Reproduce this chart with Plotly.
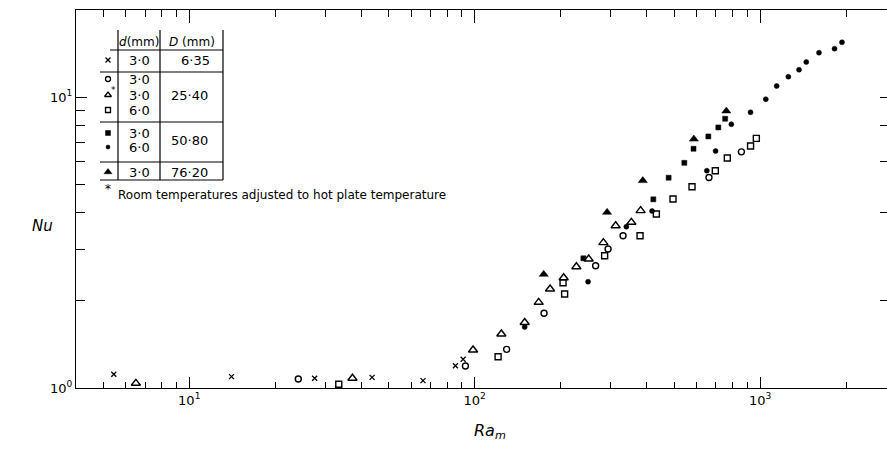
import math
import plotly.graph_objects as go

# ---------------- data (Ra_m, Nu) ----------------
x_ra = [5.44, 14.06, 27.5, 43.7, 65.9, 85.6, 91.1]
x_nu = [1.115, 1.094, 1.08, 1.088, 1.06, 1.193, 1.256]

circ_ra = [24.1, 92.8, 129.4, 175, 265.3, 293.3, 331, 662, 860]
circ_nu = [1.074, 1.19, 1.358, 1.806, 2.632, 3.005, 3.337, 5.29, 6.48]

tri_ra = [6.5, 37.3, 98.7, 124, 149.7, 167.6, 183.7, 205, 227.1, 250.8, 282.4, 311.8, 353.9, 381.4]
tri_nu = [1.038, 1.08, 1.351, 1.533, 1.679, 1.97, 2.189, 2.393, 2.611, 2.776, 3.158, 3.612, 3.711, 4.068]

sq_ra = [33.4, 120.8, 204, 206.6, 285.3, 379.6, 433, 495.3, 577.4, 696.8, 767.6, 926, 970]
sq_nu = [1.03, 1.281, 2.30, 2.104, 2.849, 3.337, 3.963, 4.462, 4.918, 5.58, 6.17, 6.79, 7.21]

fsq_ra = [240.3, 422.6, 478.1, 542.6, 584.4, 658.6, 713.8, 754.2]
fsq_nu = [2.791, 4.45, 5.28, 5.94, 6.64, 7.32, 7.86, 8.42]

dot_ra = [149.7, 249.6, 339.9, 418.2, 650.6, 698.4, 792.8, 925.6, 1047, 1143, 1256, 1369, 1451, 1608, 1823, 1936]
dot_nu = [1.62, 2.319, 3.584, 4.058, 5.58, 6.52, 8.06, 8.86, 9.83, 10.91, 11.74, 12.41, 13.19, 14.2, 14.66, 15.42]

ftri_ra = [174.5, 290.9, 388.2, 586, 761.5]
ftri_nu = [2.458, 4.016, 5.16, 7.17, 8.95]

# table contents
tab_d = ["3·0", "3·0", "3·0", "6·0", "3·0", "6·0", "3·0"]
tab_D = ["6·35", "25·40", "50·80", "76·20"]
x_major = [10, 100, 1000]
x_major_txt = ["10<sup>1</sup>", "10<sup>2</sup>", "10<sup>3</sup>"]
x_minor = [5, 6, 7, 8, 9, 20, 30, 40, 50, 60, 70, 80, 90,
           200, 300, 400, 500, 600, 700, 800, 900, 2000]
y_major = [1, 10]
y_major_txt = ["10<sup>0</sup>", "10<sup>1</sup>"]
y_minor = [2, 3, 4, 5, 6, 7, 8, 9]
y_right = [2, 4, 6, 8, 10]

# ---------------- figure ----------------
W, H = 887, 449
L, R, T, B = 76, 0, 10, 61
XR = [math.log10(4.01), 3.4446]
YR = [0, 1.299]
BLK = "black"
FONT = "DejaVu Sans"

fig = go.Figure()

def add(xs, ys, symbol, size, lw=1.4):
    fig.add_trace(go.Scatter(
        x=xs, y=ys, mode="markers", showlegend=False, hoverinfo="skip",
        marker=dict(symbol=symbol, size=size, color=BLK,
                    line=dict(color=BLK, width=lw))))

add(x_ra, x_nu, "x-thin-open", 5, 1.3)
add(circ_ra, circ_nu, "circle-open", 6)
add(tri_ra, tri_nu, "triangle-up-open", 8)
add(sq_ra, sq_nu, "square-open", 6)
add(fsq_ra, fsq_nu, "square", 5, 0.5)
add(dot_ra, dot_nu, "circle", 5, 0.5)
add(ftri_ra, ftri_nu, "triangle-up", 8, 0.5)

# dummy trace to materialise the top/right axes
fig.add_trace(go.Scatter(x=[], y=[], xaxis="x2", yaxis="y2",
                         showlegend=False, hoverinfo="skip"))

# ---------------- legend table in pixel space (overlay axes x3/y3) ----------------
px_x = [76, 887]
px_y = [388, 10]
fig.add_trace(go.Scatter(x=[], y=[], xaxis="x3", yaxis="y3",
                         showlegend=False, hoverinfo="skip"))

row_y = [60, 79, 95, 110, 133, 147, 172]
sym = [("x-thin-open", 5, 1.3), ("circle-open", 5, 1.3), ("triangle-up-open", 6, 1.3),
       ("square-open", 5, 1.3), ("square", 5, 0.5), ("circle", 4, 0.5),
       ("triangle-up", 7, 0.5)]
for (s, sz, lw), yy in zip(sym, row_y):
    fig.add_trace(go.Scatter(x=[108], y=[yy], xaxis="x3", yaxis="y3",
                             mode="markers", showlegend=False, hoverinfo="skip",
                             marker=dict(symbol=s, size=sz, color=BLK,
                                         line=dict(color=BLK, width=lw))))

shapes = []
def line(x0, y0, x1, y1, w=1.2):
    shapes.append(dict(type="line", xref="x3", yref="y3", x0=x0, y0=y0,
                       x1=x1, y1=y1, line=dict(color=BLK, width=w)))

for xv in (118, 160, 223):
    line(xv, 30, xv, 180)
line(110, 50, 223, 50)
for yv in (72, 122, 162, 180):
    line(100, yv, 223, yv)

ann = []
def txt(x, y, s, size=13, xanchor="center"):
    ann.append(dict(xref="x3", yref="y3", x=x, y=y, text=s, showarrow=False,
                    xanchor=xanchor, yanchor="middle",
                    font=dict(family=FONT, size=size, color=BLK)))

txt(139, 42, "<i>d</i>(mm)", 12)
txt(192, 42, "<i>D</i> (mm)", 12)
for s, yy in zip(tab_d, row_y):
    txt(139, yy, s)
txt(195, 60, tab_D[0])
txt(189, 95, tab_D[1])
txt(189, 140, tab_D[2])
txt(189, 172, tab_D[3])
txt(113, 90, "*", 9)
txt(108, 189, "*", 12)
txt(116, 195, "Room temperatures adjusted to hot plate temperature", 12, xanchor="left")

# axis titles (paper coordinates, outside the plot area)
def px2paper(px, py):
    return (px - L) / (W - L - R), (H - B - py) / (H - T - B)

nx, ny = px2paper(42, 226)
ann.append(dict(xref="paper", yref="paper", x=nx, y=ny, text="<i>Nu</i>",
                showarrow=False, xanchor="center", yanchor="middle",
                font=dict(family=FONT, size=15, color=BLK)))
rx, ry = px2paper(490, 432)
ann.append(dict(xref="paper", yref="paper", x=rx, y=ry, text="<i>Ra<sub>m</sub></i>",
                showarrow=False, xanchor="center", yanchor="middle",
                font=dict(family=FONT, size=16, color=BLK)))

axis_common = dict(type="log", showgrid=False, zeroline=False, showline=True,
                   linecolor=BLK, linewidth=1.3, ticks="inside",
                   tickcolor=BLK, tickwidth=1.2)

fig.update_layout(
    width=W, height=H, margin=dict(l=L, r=R, t=T, b=B),
    paper_bgcolor="white", plot_bgcolor="white",
    font=dict(family=FONT, size=13, color=BLK),
    shapes=shapes, annotations=ann,
    xaxis=dict(**axis_common, range=XR, tickmode="array", tickvals=x_major,
               ticktext=x_major_txt, ticklen=11,
               minor=dict(tickmode="array", tickvals=x_minor, ticks="inside",
                          ticklen=6, tickcolor=BLK, tickwidth=1.1),
               tickfont=dict(family=FONT, size=13, color=BLK)),
    yaxis=dict(**axis_common, range=YR, tickmode="array", tickvals=y_major,
               ticktext=y_major_txt, ticklen=11,
               minor=dict(tickmode="array", tickvals=y_minor, ticks="inside",
                          ticklen=9, tickcolor=BLK, tickwidth=1.1),
               tickfont=dict(family=FONT, size=13, color=BLK)),
    xaxis2=dict(**axis_common, range=XR, overlaying="x", side="top",
                anchor="y2", tickmode="array", tickvals=x_major, ticklen=13,
                showticklabels=False,
                minor=dict(tickmode="array", tickvals=x_minor, ticks="inside",
                           ticklen=7, tickcolor=BLK, tickwidth=1.1)),
    yaxis2=dict(**axis_common, range=YR, overlaying="y", side="right",
                anchor="x2", tickmode="array", tickvals=y_right, ticklen=7,
                showticklabels=False),
    xaxis3=dict(range=px_x, overlaying="x", visible=False, anchor="y3"),
    yaxis3=dict(range=px_y, overlaying="y", visible=False, anchor="x3"),
)

fig.write_html("out.html", config={"displayModeBar": False})
